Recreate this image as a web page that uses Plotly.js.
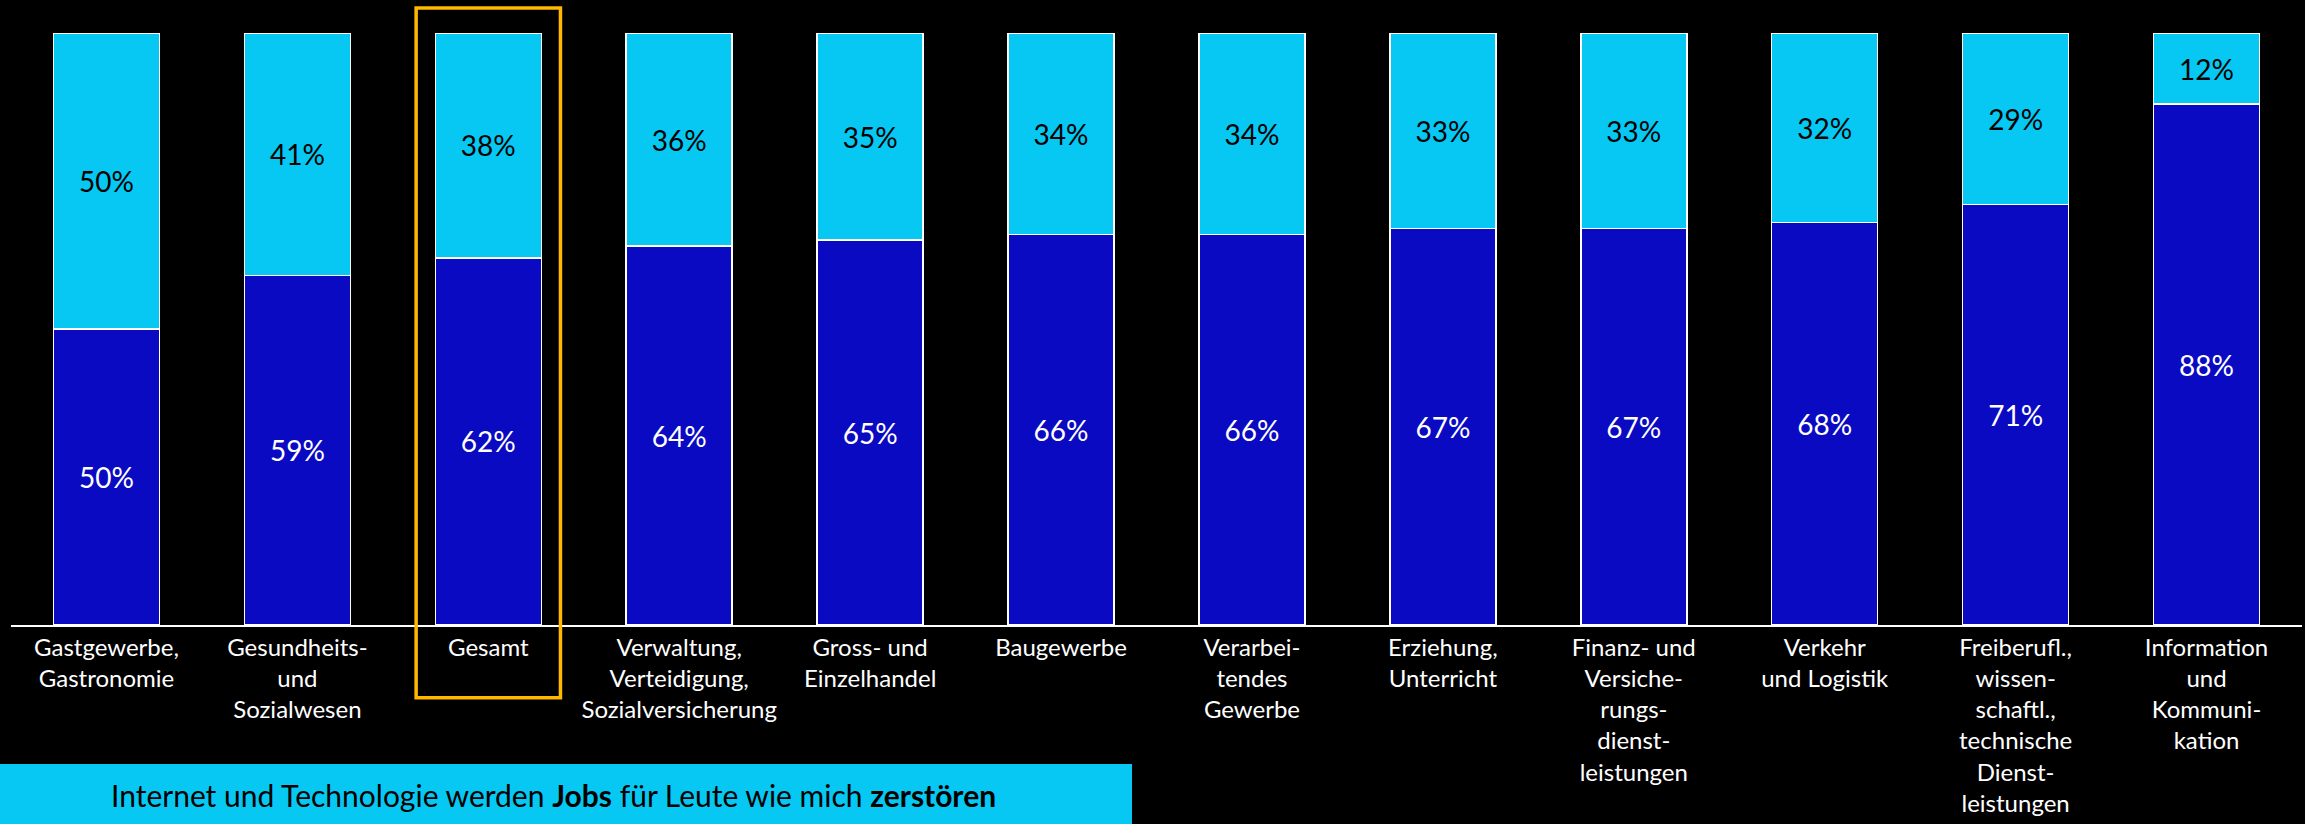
<!DOCTYPE html>
<html>
<head>
<meta charset="utf-8">
<script src="https://cdn.plot.ly/plotly-3.0.1.min.js"></script>
<style>
  html, body { margin: 0; padding: 0; background: #000; }
  #chart { width: 2305px; height: 824px; }
</style>
</head>
<body>
<div id="chart"></div>
<script>
// ---- data ----
const categories = [
  "Gastgewerbe, Gastronomie",
  "Gesundheits- und Sozialwesen",
  "Gesamt",
  "Verwaltung, Verteidigung, Sozialversicherung",
  "Gross- und Einzelhandel",
  "Baugewerbe",
  "Verarbeitendes Gewerbe",
  "Erziehung, Unterricht",
  "Finanz- und Versicherungsdienstleistungen",
  "Verkehr und Logistik",
  "Freiberufl., wissenschaftl., technische Dienstleistungen",
  "Information und Kommunikation"
];
const tickLabels = [
  "Gastgewerbe,<br>Gastronomie",
  "Gesundheits-<br>und<br>Sozialwesen",
  "Gesamt",
  "Verwaltung,<br>Verteidigung,<br>Sozialversicherung",
  "Gross- und<br>Einzelhandel",
  "Baugewerbe",
  "Verarbei-<br>tendes<br>Gewerbe",
  "Erziehung,<br>Unterricht",
  "Finanz- und<br>Versiche-<br>rungs-<br>dienst-<br>leistungen",
  "Verkehr<br>und Logistik",
  "Freiberufl.,<br>wissen-<br>schaftl.,<br>technische<br>Dienst-<br>leistungen",
  "Information<br>und<br>Kommuni-<br>kation"
];
const disagreeValues = [50, 59, 62, 64, 65, 66, 66, 67, 67, 68, 71, 88];
const agreeValues    = [50, 41, 38, 36, 35, 34, 34, 33, 33, 32, 29, 12];
const highlightCategory = "Gesamt";
const statementText = "Internet und Technologie werden <b>Jobs</b> für Leute wie mich <b>zerstören</b>";

// ---- styles ----
const FONT = "Lato, 'Open Sans', sans-serif";
const DARK = "#0A0AC2";
const LIGHT = "#06C8F2";
const ORANGE = "#FFB800";

const traces = [
  {
    type: "bar", name: "Stimme nicht zu",
    x: categories, y: disagreeValues,
    text: disagreeValues.map(v => v + "%"),
    textposition: "inside", insidetextanchor: "middle",
    textfont: { family: FONT, size: 28, color: "#ffffff" },
    marker: { color: DARK, line: { color: "#ffffff", width: 1.5 } },
    hoverinfo: "skip", cliponaxis: false
  },
  {
    type: "bar", name: "Stimme zu",
    x: categories, y: agreeValues,
    text: agreeValues.map(v => v + "%"),
    textposition: "inside", insidetextanchor: "middle",
    textfont: { family: FONT, size: 28, color: "#000000" },
    marker: { color: LIGHT, line: { color: "#ffffff", width: 1.5 } },
    hoverinfo: "skip", cliponaxis: false
  }
];

const n = categories.length;
const hi = categories.indexOf(highlightCategory);
const halfBox = 0.378;

const layout = {
  width: 2305, height: 824,
  paper_bgcolor: "#000000", plot_bgcolor: "#000000",
  margin: { l: 11, r: 3, t: 33, b: 199 },
  barmode: "stack", bargap: 0.445,
  showlegend: false,
  font: { family: FONT, color: "#ffffff" },
  xaxis: {
    type: "category",
    tickvals: categories, ticktext: tickLabels,
    tickangle: 0,
    tickfont: { family: FONT, size: 24, color: "#ffffff" },
    showline: true, linecolor: "#ffffff", linewidth: 2,
    ticks: "", showgrid: false, zeroline: false,
    automargin: false
  },
  yaxis: {
    range: [0, 100], visible: false, showgrid: false, zeroline: false, fixedrange: true
  },
  shapes: [
    {
      type: "rect", xref: "paper", yref: "paper",
      x0: (hi + 0.5 - halfBox) / n, x1: (hi + 0.5 + halfBox) / n,
      y0: -0.1227, y1: 1.0422,
      line: { color: ORANGE, width: 3.5 }, fillcolor: "rgba(0,0,0,0)", layer: "above"
    },
    {
      type: "rect", xref: "paper", yref: "paper",
      x0: -0.006, x1: 0.4893, y0: -0.36, y1: -0.2347,
      line: { width: 0 }, fillcolor: LIGHT, layer: "above"
    }
  ],
  annotations: [
    {
      xref: "paper", yref: "paper", x: 0.2366, y: -0.287,
      xanchor: "center", yanchor: "middle", showarrow: false,
      text: statementText,
      font: { family: FONT, size: 30, color: "#000000" }
    }
  ]
};

Plotly.newPlot("chart", traces, layout, { staticPlot: true, displayModeBar: false });
</script>
</body>
</html>
